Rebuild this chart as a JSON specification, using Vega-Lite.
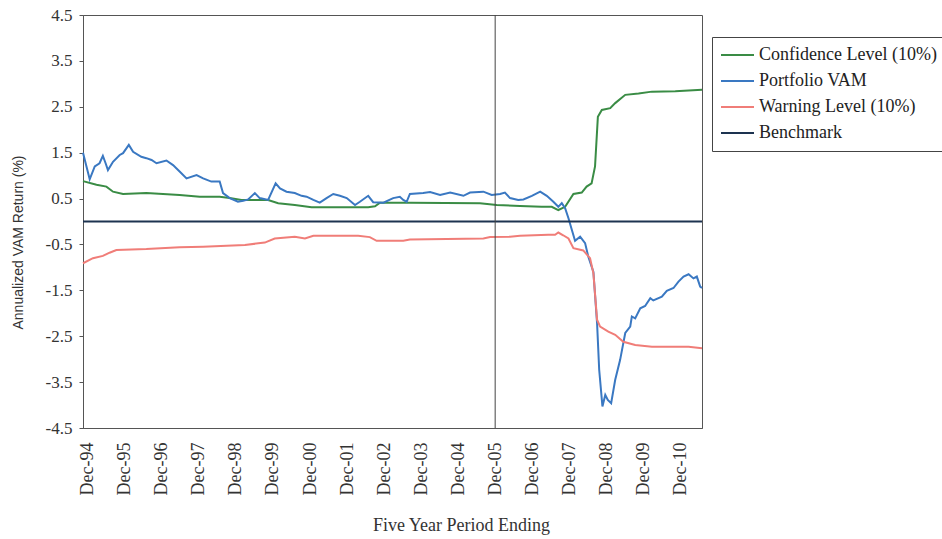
{
  "$schema": "https://vega.github.io/schema/vega-lite/v6.json",
  "width": 619,
  "height": 413,
  "autosize": {"type": "none"},
  "padding": {"left": 83, "top": 15, "right": 240, "bottom": 111},
  "background": "white",
  "config": {
    "view": {"stroke": "#555", "strokeWidth": 1},
    "font": "Liberation Serif",
    "axis": {"labelOverlap": false, "labelFlush": false, "labelBound": false}
  },
  "datasets": {
    "vam": [
      {"date": "1994-10-15", "series": "Confidence Level (10%)", "value": 0.88},
      {"date": "1995-02-25", "series": "Confidence Level (10%)", "value": 0.80},
      {"date": "1995-06-03", "series": "Confidence Level (10%)", "value": 0.76},
      {"date": "1995-08-07", "series": "Confidence Level (10%)", "value": 0.65},
      {"date": "1995-11-14", "series": "Confidence Level (10%)", "value": 0.60},
      {"date": "1996-07-01", "series": "Confidence Level (10%)", "value": 0.62},
      {"date": "1997-05-25", "series": "Confidence Level (10%)", "value": 0.58},
      {"date": "1997-12-10", "series": "Confidence Level (10%)", "value": 0.54},
      {"date": "1998-06-24", "series": "Confidence Level (10%)", "value": 0.54},
      {"date": "1998-10-01", "series": "Confidence Level (10%)", "value": 0.51},
      {"date": "1999-01-25", "series": "Confidence Level (10%)", "value": 0.47},
      {"date": "1999-10-15", "series": "Confidence Level (10%)", "value": 0.47},
      {"date": "2000-01-22", "series": "Confidence Level (10%)", "value": 0.40},
      {"date": "2000-07-04", "series": "Confidence Level (10%)", "value": 0.36},
      {"date": "2000-12-16", "series": "Confidence Level (10%)", "value": 0.31},
      {"date": "2002-06-28", "series": "Confidence Level (10%)", "value": 0.31},
      {"date": "2002-09-03", "series": "Confidence Level (10%)", "value": 0.33},
      {"date": "2002-10-22", "series": "Confidence Level (10%)", "value": 0.41},
      {"date": "2003-08-13", "series": "Confidence Level (10%)", "value": 0.41},
      {"date": "2005-07-04", "series": "Confidence Level (10%)", "value": 0.40},
      {"date": "2005-12-16", "series": "Confidence Level (10%)", "value": 0.36},
      {"date": "2006-08-03", "series": "Confidence Level (10%)", "value": 0.34},
      {"date": "2007-03-04", "series": "Confidence Level (10%)", "value": 0.32},
      {"date": "2007-06-12", "series": "Confidence Level (10%)", "value": 0.32},
      {"date": "2007-08-16", "series": "Confidence Level (10%)", "value": 0.25},
      {"date": "2007-10-22", "series": "Confidence Level (10%)", "value": 0.32},
      {"date": "2008-01-12", "series": "Confidence Level (10%)", "value": 0.60},
      {"date": "2008-04-03", "series": "Confidence Level (10%)", "value": 0.63},
      {"date": "2008-05-21", "series": "Confidence Level (10%)", "value": 0.76},
      {"date": "2008-07-09", "series": "Confidence Level (10%)", "value": 0.83},
      {"date": "2008-08-12", "series": "Confidence Level (10%)", "value": 1.20},
      {"date": "2008-09-09", "series": "Confidence Level (10%)", "value": 2.28},
      {"date": "2008-10-18", "series": "Confidence Level (10%)", "value": 2.43},
      {"date": "2009-01-09", "series": "Confidence Level (10%)", "value": 2.47},
      {"date": "2009-02-27", "series": "Confidence Level (10%)", "value": 2.58},
      {"date": "2009-06-06", "series": "Confidence Level (10%)", "value": 2.76},
      {"date": "2009-10-15", "series": "Confidence Level (10%)", "value": 2.79},
      {"date": "2010-02-24", "series": "Confidence Level (10%)", "value": 2.83},
      {"date": "2010-10-12", "series": "Confidence Level (10%)", "value": 2.84},
      {"date": "2011-07-03", "series": "Confidence Level (10%)", "value": 2.87},

      {"date": "1994-10-15", "series": "Portfolio VAM", "value": 1.50},
      {"date": "1994-12-20", "series": "Portfolio VAM", "value": 0.92},
      {"date": "1995-02-08", "series": "Portfolio VAM", "value": 1.20},
      {"date": "1995-03-27", "series": "Portfolio VAM", "value": 1.27},
      {"date": "1995-04-29", "series": "Portfolio VAM", "value": 1.43},
      {"date": "1995-05-26", "series": "Portfolio VAM", "value": 1.27},
      {"date": "1995-06-18", "series": "Portfolio VAM", "value": 1.12},
      {"date": "1995-08-07", "series": "Portfolio VAM", "value": 1.30},
      {"date": "1995-10-12", "series": "Portfolio VAM", "value": 1.45},
      {"date": "1995-11-14", "series": "Portfolio VAM", "value": 1.49},
      {"date": "1996-01-10", "series": "Portfolio VAM", "value": 1.67},
      {"date": "1996-02-21", "series": "Portfolio VAM", "value": 1.52},
      {"date": "1996-05-12", "series": "Portfolio VAM", "value": 1.41},
      {"date": "1996-07-01", "series": "Portfolio VAM", "value": 1.38},
      {"date": "1996-08-21", "series": "Portfolio VAM", "value": 1.34},
      {"date": "1996-10-09", "series": "Portfolio VAM", "value": 1.27},
      {"date": "1997-01-15", "series": "Portfolio VAM", "value": 1.33},
      {"date": "1997-03-21", "series": "Portfolio VAM", "value": 1.23},
      {"date": "1997-05-25", "series": "Portfolio VAM", "value": 1.09},
      {"date": "1997-08-01", "series": "Portfolio VAM", "value": 0.94},
      {"date": "1997-11-08", "series": "Portfolio VAM", "value": 1.01},
      {"date": "1998-01-12", "series": "Portfolio VAM", "value": 0.94},
      {"date": "1998-04-03", "series": "Portfolio VAM", "value": 0.87},
      {"date": "1998-06-24", "series": "Portfolio VAM", "value": 0.87},
      {"date": "1998-07-27", "series": "Portfolio VAM", "value": 0.62},
      {"date": "1998-10-01", "series": "Portfolio VAM", "value": 0.51},
      {"date": "1998-12-21", "series": "Portfolio VAM", "value": 0.43},
      {"date": "1999-02-11", "series": "Portfolio VAM", "value": 0.45},
      {"date": "1999-04-01", "series": "Portfolio VAM", "value": 0.48},
      {"date": "1999-06-06", "series": "Portfolio VAM", "value": 0.62},
      {"date": "1999-07-24", "series": "Portfolio VAM", "value": 0.51},
      {"date": "1999-10-15", "series": "Portfolio VAM", "value": 0.47},
      {"date": "1999-12-28", "series": "Portfolio VAM", "value": 0.83},
      {"date": "2000-02-09", "series": "Portfolio VAM", "value": 0.72},
      {"date": "2000-04-13", "series": "Portfolio VAM", "value": 0.65},
      {"date": "2000-07-04", "series": "Portfolio VAM", "value": 0.62},
      {"date": "2000-09-09", "series": "Portfolio VAM", "value": 0.56},
      {"date": "2000-10-28", "series": "Portfolio VAM", "value": 0.54},
      {"date": "2001-01-03", "series": "Portfolio VAM", "value": 0.47},
      {"date": "2001-03-07", "series": "Portfolio VAM", "value": 0.41},
      {"date": "2001-05-13", "series": "Portfolio VAM", "value": 0.51},
      {"date": "2001-07-18", "series": "Portfolio VAM", "value": 0.60},
      {"date": "2001-09-22", "series": "Portfolio VAM", "value": 0.56},
      {"date": "2001-11-28", "series": "Portfolio VAM", "value": 0.51},
      {"date": "2002-02-18", "series": "Portfolio VAM", "value": 0.36},
      {"date": "2002-04-07", "series": "Portfolio VAM", "value": 0.43},
      {"date": "2002-06-28", "series": "Portfolio VAM", "value": 0.56},
      {"date": "2002-08-16", "series": "Portfolio VAM", "value": 0.42},
      {"date": "2002-11-25", "series": "Portfolio VAM", "value": 0.41},
      {"date": "2003-03-01", "series": "Portfolio VAM", "value": 0.51},
      {"date": "2003-05-06", "series": "Portfolio VAM", "value": 0.54},
      {"date": "2003-06-09", "series": "Portfolio VAM", "value": 0.47},
      {"date": "2003-07-12", "series": "Portfolio VAM", "value": 0.43},
      {"date": "2003-08-13", "series": "Portfolio VAM", "value": 0.60},
      {"date": "2003-12-22", "series": "Portfolio VAM", "value": 0.62},
      {"date": "2004-02-28", "series": "Portfolio VAM", "value": 0.64},
      {"date": "2004-06-06", "series": "Portfolio VAM", "value": 0.58},
      {"date": "2004-09-13", "series": "Portfolio VAM", "value": 0.63},
      {"date": "2005-01-22", "series": "Portfolio VAM", "value": 0.56},
      {"date": "2005-03-28", "series": "Portfolio VAM", "value": 0.63},
      {"date": "2005-08-07", "series": "Portfolio VAM", "value": 0.65},
      {"date": "2005-10-28", "series": "Portfolio VAM", "value": 0.58},
      {"date": "2006-01-19", "series": "Portfolio VAM", "value": 0.60},
      {"date": "2006-03-07", "series": "Portfolio VAM", "value": 0.63},
      {"date": "2006-04-27", "series": "Portfolio VAM", "value": 0.51},
      {"date": "2006-07-16", "series": "Portfolio VAM", "value": 0.47},
      {"date": "2006-09-06", "series": "Portfolio VAM", "value": 0.48},
      {"date": "2006-11-28", "series": "Portfolio VAM", "value": 0.56},
      {"date": "2007-02-18", "series": "Portfolio VAM", "value": 0.65},
      {"date": "2007-04-24", "series": "Portfolio VAM", "value": 0.56},
      {"date": "2007-06-28", "series": "Portfolio VAM", "value": 0.43},
      {"date": "2007-08-16", "series": "Portfolio VAM", "value": 0.32},
      {"date": "2007-09-19", "series": "Portfolio VAM", "value": 0.40},
      {"date": "2007-10-22", "series": "Portfolio VAM", "value": 0.29},
      {"date": "2007-11-24", "series": "Portfolio VAM", "value": 0.07},
      {"date": "2007-12-27", "series": "Portfolio VAM", "value": -0.18},
      {"date": "2008-01-28", "series": "Portfolio VAM", "value": -0.42},
      {"date": "2008-03-18", "series": "Portfolio VAM", "value": -0.33},
      {"date": "2008-05-06", "series": "Portfolio VAM", "value": -0.47},
      {"date": "2008-06-07", "series": "Portfolio VAM", "value": -0.77},
      {"date": "2008-07-27", "series": "Portfolio VAM", "value": -1.10},
      {"date": "2008-09-01", "series": "Portfolio VAM", "value": -2.21},
      {"date": "2008-09-22", "series": "Portfolio VAM", "value": -3.23},
      {"date": "2008-10-24", "series": "Portfolio VAM", "value": -4.03},
      {"date": "2008-11-21", "series": "Portfolio VAM", "value": -3.78},
      {"date": "2008-12-16", "series": "Portfolio VAM", "value": -3.89},
      {"date": "2009-01-18", "series": "Portfolio VAM", "value": -3.96},
      {"date": "2009-02-27", "series": "Portfolio VAM", "value": -3.45},
      {"date": "2009-04-16", "series": "Portfolio VAM", "value": -3.02},
      {"date": "2009-06-06", "series": "Portfolio VAM", "value": -2.43},
      {"date": "2009-07-25", "series": "Portfolio VAM", "value": -2.29},
      {"date": "2009-08-10", "series": "Portfolio VAM", "value": -2.07},
      {"date": "2009-09-12", "series": "Portfolio VAM", "value": -2.11},
      {"date": "2009-11-01", "series": "Portfolio VAM", "value": -1.89},
      {"date": "2009-12-19", "series": "Portfolio VAM", "value": -1.84},
      {"date": "2010-02-08", "series": "Portfolio VAM", "value": -1.67},
      {"date": "2010-03-10", "series": "Portfolio VAM", "value": -1.72},
      {"date": "2010-06-02", "series": "Portfolio VAM", "value": -1.64},
      {"date": "2010-07-21", "series": "Portfolio VAM", "value": -1.51},
      {"date": "2010-09-25", "series": "Portfolio VAM", "value": -1.45},
      {"date": "2010-11-13", "series": "Portfolio VAM", "value": -1.31},
      {"date": "2011-01-02", "series": "Portfolio VAM", "value": -1.20},
      {"date": "2011-02-21", "series": "Portfolio VAM", "value": -1.15},
      {"date": "2011-04-10", "series": "Portfolio VAM", "value": -1.24},
      {"date": "2011-05-13", "series": "Portfolio VAM", "value": -1.20},
      {"date": "2011-06-15", "series": "Portfolio VAM", "value": -1.42},
      {"date": "2011-07-03", "series": "Portfolio VAM", "value": -1.45},

      {"date": "1994-10-15", "series": "Warning Level (10%)", "value": -0.91},
      {"date": "1995-01-21", "series": "Warning Level (10%)", "value": -0.80},
      {"date": "1995-04-29", "series": "Warning Level (10%)", "value": -0.75},
      {"date": "1995-07-04", "series": "Warning Level (10%)", "value": -0.68},
      {"date": "1995-09-09", "series": "Warning Level (10%)", "value": -0.62},
      {"date": "1996-07-01", "series": "Warning Level (10%)", "value": -0.60},
      {"date": "1997-05-25", "series": "Warning Level (10%)", "value": -0.56},
      {"date": "1998-01-12", "series": "Warning Level (10%)", "value": -0.55},
      {"date": "1998-09-01", "series": "Warning Level (10%)", "value": -0.53},
      {"date": "1999-02-28", "series": "Warning Level (10%)", "value": -0.51},
      {"date": "1999-09-12", "series": "Warning Level (10%)", "value": -0.46},
      {"date": "1999-12-19", "series": "Warning Level (10%)", "value": -0.37},
      {"date": "2000-07-04", "series": "Warning Level (10%)", "value": -0.33},
      {"date": "2000-10-12", "series": "Warning Level (10%)", "value": -0.37},
      {"date": "2001-01-03", "series": "Warning Level (10%)", "value": -0.31},
      {"date": "2002-03-21", "series": "Warning Level (10%)", "value": -0.31},
      {"date": "2002-07-14", "series": "Warning Level (10%)", "value": -0.34},
      {"date": "2002-09-19", "series": "Warning Level (10%)", "value": -0.42},
      {"date": "2003-06-09", "series": "Warning Level (10%)", "value": -0.42},
      {"date": "2003-08-13", "series": "Warning Level (10%)", "value": -0.39},
      {"date": "2005-08-07", "series": "Warning Level (10%)", "value": -0.37},
      {"date": "2005-10-12", "series": "Warning Level (10%)", "value": -0.34},
      {"date": "2006-04-27", "series": "Warning Level (10%)", "value": -0.33},
      {"date": "2006-08-03", "series": "Warning Level (10%)", "value": -0.31},
      {"date": "2007-05-09", "series": "Warning Level (10%)", "value": -0.29},
      {"date": "2007-07-15", "series": "Warning Level (10%)", "value": -0.29},
      {"date": "2007-08-16", "series": "Warning Level (10%)", "value": -0.24},
      {"date": "2007-10-03", "series": "Warning Level (10%)", "value": -0.30},
      {"date": "2007-11-24", "series": "Warning Level (10%)", "value": -0.37},
      {"date": "2008-01-12", "series": "Warning Level (10%)", "value": -0.58},
      {"date": "2008-04-18", "series": "Warning Level (10%)", "value": -0.63},
      {"date": "2008-06-24", "series": "Warning Level (10%)", "value": -0.80},
      {"date": "2008-07-27", "series": "Warning Level (10%)", "value": -1.13},
      {"date": "2008-09-01", "series": "Warning Level (10%)", "value": -2.14},
      {"date": "2008-10-01", "series": "Warning Level (10%)", "value": -2.29},
      {"date": "2008-12-21", "series": "Warning Level (10%)", "value": -2.40},
      {"date": "2009-02-27", "series": "Warning Level (10%)", "value": -2.47},
      {"date": "2009-05-18", "series": "Warning Level (10%)", "value": -2.62},
      {"date": "2009-09-12", "series": "Warning Level (10%)", "value": -2.69},
      {"date": "2010-02-24", "series": "Warning Level (10%)", "value": -2.73},
      {"date": "2011-02-21", "series": "Warning Level (10%)", "value": -2.73},
      {"date": "2011-07-03", "series": "Warning Level (10%)", "value": -2.76},

      {"date": "1994-10-15", "series": "Benchmark", "value": 0},
      {"date": "2011-07-03", "series": "Benchmark", "value": 0}
    ],
    "marker": [{"date": "2005-12-01"}]
  },
  "layer": [
    {
      "data": {"name": "vam"},
      "mark": {"type": "line", "strokeWidth": 2, "interpolate": "linear"},
      "encoding": {
        "x": {
          "field": "date",
          "type": "temporal",
          "scale": {
            "type": "utc",
            "domain": [
              {"year": 1994, "month": 10, "date": 15, "utc": true},
              {"year": 2011, "month": 7, "date": 3, "utc": true}
            ]
          },
          "axis": {
            "values": [
              {"year": 1994, "month": 12, "date": 1, "utc": true},
              {"year": 1995, "month": 12, "date": 1, "utc": true},
              {"year": 1996, "month": 12, "date": 1, "utc": true},
              {"year": 1997, "month": 12, "date": 1, "utc": true},
              {"year": 1998, "month": 12, "date": 1, "utc": true},
              {"year": 1999, "month": 12, "date": 1, "utc": true},
              {"year": 2000, "month": 12, "date": 1, "utc": true},
              {"year": 2001, "month": 12, "date": 1, "utc": true},
              {"year": 2002, "month": 12, "date": 1, "utc": true},
              {"year": 2003, "month": 12, "date": 1, "utc": true},
              {"year": 2004, "month": 12, "date": 1, "utc": true},
              {"year": 2005, "month": 12, "date": 1, "utc": true},
              {"year": 2006, "month": 12, "date": 1, "utc": true},
              {"year": 2007, "month": 12, "date": 1, "utc": true},
              {"year": 2008, "month": 12, "date": 1, "utc": true},
              {"year": 2009, "month": 12, "date": 1, "utc": true},
              {"year": 2010, "month": 12, "date": 1, "utc": true}
            ],
            "tickCount": 40,
            "labelExpr": "utcFormat(datum.value, '%b-%y')",
            "labelAngle": 270,
            "labelAlign": "right",
            "labelBaseline": "middle",
            "labelPadding": 14,
            "labelOverlap": false,
            "labelFlush": false,
            "labelBound": false,
            "ticks": false,
            "grid": false,
            "domainColor": "#555",
            "labelFont": "Liberation Serif",
            "labelFontSize": 18,
            "labelColor": "#333",
            "title": "Five Year Period Ending",
            "titleFont": "Liberation Serif",
            "titleFontSize": 18,
            "titleFontWeight": "normal",
            "titleColor": "#333",
            "titleX": 378,
            "titleY": 102,
            "titleAlign": "center",
            "titleBaseline": "alphabetic"
          }
        },
        "y": {
          "field": "value",
          "type": "quantitative",
          "scale": {"domain": [-4.5, 4.5], "nice": false, "zero": false},
          "axis": {
            "values": [-4.5, -3.5, -2.5, -1.5, -0.5, 0.5, 1.5, 2.5, 3.5, 4.5],
            "tickCount": 20,
            "labelExpr": "datum.value < 0 ? '-' + format(-datum.value, '.1f') : format(datum.value, '.1f')",
            "tickSize": 4,
            "tickColor": "#555",
            "domainColor": "#555",
            "labelPadding": 7,
            "labelFont": "Liberation Serif",
            "labelFontSize": 17,
            "labelColor": "#333",
            "grid": false,
            "title": "Annualized VAM Return (%)",
            "titleFont": "Liberation Sans",
            "titleFontSize": 14,
            "titleFontWeight": "normal",
            "titleColor": "#333",
            "titleX": -65,
            "titleY": 227,
            "titleAngle": 270,
            "titleAlign": "center",
            "titleBaseline": "middle"
          }
        },
        "color": {
          "field": "series",
          "type": "nominal",
          "scale": {
            "domain": ["Confidence Level (10%)", "Portfolio VAM", "Warning Level (10%)", "Benchmark"],
            "range": ["#3a8c45", "#3a78c2", "#f07d78", "#1d3350"]
          },
          "legend": {
            "title": null,
            "orient": "none",
            "legendX": 629,
            "legendY": 22,
            "direction": "vertical",
            "strokeColor": "#444",
            "fillColor": "white",
            "padding": 8,
            "symbolType": "stroke",
            "symbolSize": 1089,
            "symbolStrokeWidth": 2,
            "labelFont": "Liberation Serif",
            "labelFontSize": 18,
            "labelColor": "#222",
            "labelOffset": 4,
            "labelLimit": 300,
            "rowPadding": 6,
            "clipHeight": 20
          }
        }
      }
    },
    {
      "data": {"name": "marker"},
      "mark": {"type": "rule", "color": "#444", "strokeWidth": 1},
      "encoding": {"x": {"field": "date", "type": "temporal"}}
    }
  ]
}
